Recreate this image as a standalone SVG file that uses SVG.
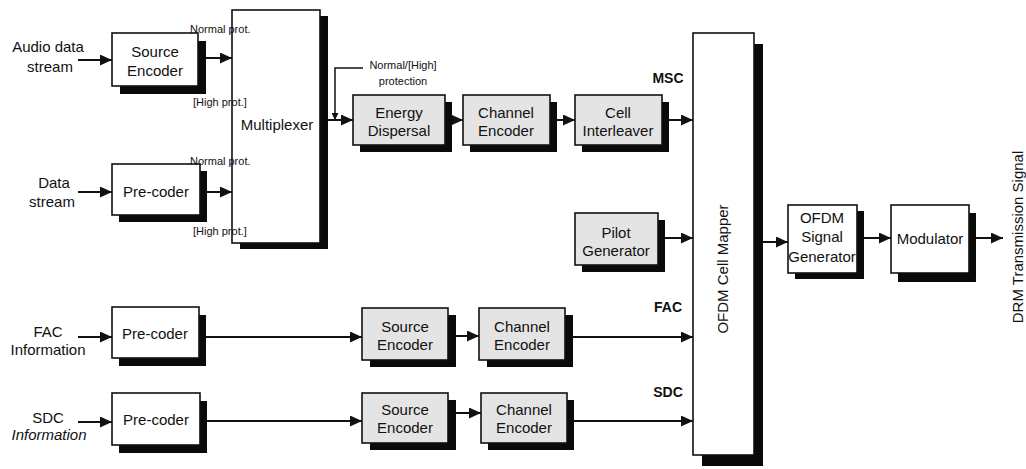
<svg xmlns="http://www.w3.org/2000/svg" width="1026" height="469" viewBox="0 0 1026 469">
<style>
text{font-family:"Liberation Sans",Arial,sans-serif;fill:#111}
.t{font-size:15px;text-anchor:middle}
.s{font-size:11px}
.b{font-size:14px;font-weight:bold;text-anchor:middle}
.box{fill:#fff;stroke:#111;stroke-width:1.6}
.g{fill:#e4e4e4;stroke:#111;stroke-width:1.6}
.sh{fill:#0a0a0a}
.c{fill:none;stroke:#111;stroke-width:2}
</style>
<defs>
<marker id="ah" markerUnits="userSpaceOnUse" markerWidth="12" markerHeight="11" refX="12" refY="5.5" orient="auto">
<path d="M0,0 L12,5.5 L0,11 z" fill="#111"/>
</marker>
<marker id="sm" markerUnits="userSpaceOnUse" markerWidth="7" markerHeight="7" refX="7" refY="3.5" orient="auto">
<path d="M0,0 L7,3.5 L0,7 z" fill="#111"/>
</marker>
</defs>
<rect width="1026" height="469" fill="#fff"/>

<g id="connectors">
<line class="c" x1="78" y1="60" x2="112" y2="60" marker-end="url(#ah)"/>
<line class="c" x1="206" y1="58" x2="232" y2="58" marker-end="url(#ah)"/>
<line class="c" x1="78" y1="192" x2="112" y2="192" marker-end="url(#ah)"/>
<line class="c" x1="207" y1="192" x2="232" y2="192" marker-end="url(#ah)"/>
<line class="c" x1="327" y1="120" x2="353" y2="120" marker-end="url(#ah)"/>
<polyline class="c" style="stroke-width:1.5" points="363,68 335,68 335,120" marker-end="url(#sm)"/>
<line class="c" x1="452" y1="120" x2="463" y2="120" marker-end="url(#ah)"/>
<line class="c" x1="557" y1="120" x2="575" y2="120" marker-end="url(#ah)"/>
<line class="c" x1="669" y1="120" x2="693" y2="120" marker-end="url(#ah)"/>
<line class="c" x1="665" y1="238" x2="693" y2="238" marker-end="url(#ah)"/>
<line class="c" x1="78" y1="337" x2="112" y2="337" marker-end="url(#ah)"/>
<line class="c" x1="206" y1="337" x2="362" y2="337" marker-end="url(#ah)"/>
<line class="c" x1="455" y1="336" x2="479" y2="336" marker-end="url(#ah)"/>
<line class="c" x1="572" y1="337" x2="693" y2="337" marker-end="url(#ah)"/>
<line class="c" x1="78" y1="422" x2="112" y2="422" marker-end="url(#ah)"/>
<line class="c" x1="207" y1="421" x2="362" y2="421" marker-end="url(#ah)"/>
<line class="c" x1="455" y1="413" x2="481" y2="413" marker-end="url(#ah)"/>
<line class="c" x1="574" y1="421" x2="693" y2="421" marker-end="url(#ah)"/>
<line class="c" x1="763" y1="242" x2="788" y2="242" marker-end="url(#ah)"/>
<line class="c" x1="864" y1="238" x2="891" y2="238" marker-end="url(#ah)"/>
<line class="c" x1="969" y1="238" x2="1003" y2="238" marker-end="url(#ah)"/>
</g>

<g id="src_enc">
<rect class="sh" x="120" y="41" width="86" height="53"/>
<rect class="box" x="112" y="33" width="86" height="53"/>
<text class="t" x="155" y="57">Source</text>
<text class="t" x="155" y="76">Encoder</text>
</g>
<g id="precoder_data">
<rect class="sh" x="119" y="171" width="88" height="51"/>
<rect class="box" x="112" y="164" width="88" height="51"/>
<text class="t" x="156" y="197">Pre-coder</text>
</g>
<g id="mux">
<rect class="sh" x="240" y="16" width="88" height="233"/>
<rect class="box" x="232" y="10" width="88" height="233"/>
<text class="t" x="277" y="130">Multiplexer</text>
</g>
<g id="energy">
<rect class="sh" x="360" y="102" width="92" height="50"/>
<rect class="g" x="353" y="95" width="92" height="50"/>
<text class="t" x="399" y="118">Energy</text>
<text class="t" x="399" y="136">Dispersal</text>
</g>
<g id="chan_enc">
<rect class="sh" x="470" y="102" width="87" height="50"/>
<rect class="g" x="463" y="95" width="87" height="50"/>
<text class="t" x="506" y="118">Channel</text>
<text class="t" x="506" y="136">Encoder</text>
</g>
<g id="cell_int">
<rect class="sh" x="582" y="102" width="87" height="50"/>
<rect class="g" x="575" y="95" width="87" height="50"/>
<text class="t" x="618" y="118">Cell</text>
<text class="t" x="618" y="136">Interleaver</text>
</g>
<g id="pilot">
<rect class="sh" x="582" y="220" width="83" height="52"/>
<rect class="g" x="575" y="213" width="83" height="52"/>
<text class="t" x="616" y="238">Pilot</text>
<text class="t" x="616" y="256">Generator</text>
</g>
<g id="fac_pre">
<rect class="sh" x="119" y="315" width="87" height="51"/>
<rect class="box" x="112" y="307" width="87" height="51"/>
<text class="t" x="155" y="339">Pre-coder</text>
</g>
<g id="sdc_pre">
<rect class="sh" x="119" y="401" width="88" height="52"/>
<rect class="box" x="112" y="393" width="88" height="52"/>
<text class="t" x="156" y="425">Pre-coder</text>
</g>
<g id="fac_src">
<rect class="sh" x="370" y="315" width="86" height="52"/>
<rect class="g" x="362" y="308" width="86" height="52"/>
<text class="t" x="405" y="332">Source</text>
<text class="t" x="405" y="350">Encoder</text>
</g>
<g id="fac_chan">
<rect class="sh" x="487" y="315" width="86" height="52"/>
<rect class="g" x="479" y="308" width="86" height="52"/>
<text class="t" x="522" y="332">Channel</text>
<text class="t" x="522" y="350">Encoder</text>
</g>
<g id="sdc_src">
<rect class="sh" x="370" y="400" width="86" height="50"/>
<rect class="g" x="362" y="393" width="86" height="50"/>
<text class="t" x="405" y="415">Source</text>
<text class="t" x="405" y="433">Encoder</text>
</g>
<g id="sdc_chan">
<rect class="sh" x="488" y="400" width="86" height="50"/>
<rect class="g" x="481" y="393" width="86" height="50"/>
<text class="t" x="524" y="415">Channel</text>
<text class="t" x="524" y="433">Encoder</text>
</g>
<g id="mapper">
<rect class="sh" x="702" y="44" width="61" height="422"/>
<rect class="box" x="693" y="33" width="61" height="422"/>
<text class="t" transform="translate(728,269) rotate(-90)">OFDM Cell Mapper</text>
</g>
<g id="ofdm_gen">
<rect class="sh" x="795" y="211" width="69" height="68"/>
<rect class="box" x="788" y="205" width="69" height="68"/>
<text class="t" x="822" y="223">OFDM</text>
<text class="t" x="822" y="242">Signal</text>
<text class="t" x="822" y="262">Generator</text>
</g>
<g id="modulator">
<rect class="sh" x="898" y="213" width="78" height="69"/>
<rect class="box" x="891" y="205" width="78" height="68"/>
<text class="t" x="930" y="244">Modulator</text>
</g>

<g id="labels">
<text class="t" x="48" y="52">Audio data</text>
<text class="t" x="50" y="72">stream</text>
<text class="t" x="54" y="188">Data</text>
<text class="t" x="52" y="207">stream</text>
<text class="t" x="48" y="337">FAC</text>
<text class="t" x="48" y="355">Information</text>
<text class="t" x="48" y="423">SDC</text>
<text class="t" x="49" y="440" font-style="italic">Information</text>
<text class="s" x="190" y="33">Normal prot.</text>
<text class="s" x="193" y="106">[High prot.]</text>
<text class="s" x="190" y="165">Normal prot.</text>
<text class="s" x="193" y="235">[High prot.]</text>
<text class="s" x="403" y="69" text-anchor="middle">Normal/[High]</text>
<text class="s" x="403" y="85" text-anchor="middle">protection</text>
<text class="b" x="668" y="83">MSC</text>
<text class="b" x="668" y="312">FAC</text>
<text class="b" x="668" y="397">SDC</text>
<text class="t" transform="translate(1023,237) rotate(-90)">DRM Transmission Signal</text>
</g>
</svg>
